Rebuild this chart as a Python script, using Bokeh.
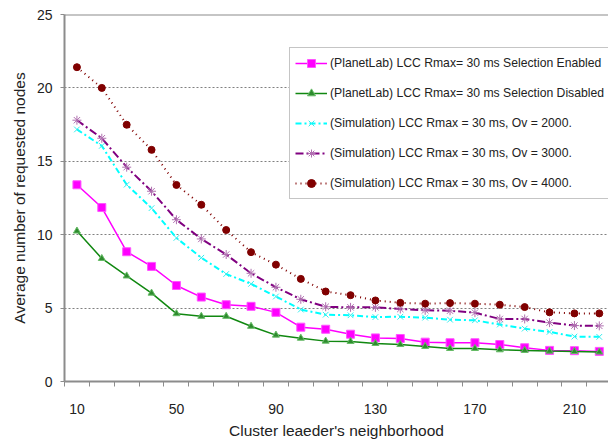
from bokeh.plotting import figure
from bokeh.models import Range1d, FixedTicker, Span, Legend, LegendItem
from bokeh.embed import file_html
from bokeh.resources import INLINE

neighborhood = [10, 20, 30, 40, 50, 60, 70, 80, 90, 100, 110,
                120, 130, 140, 150, 160, 170, 180, 190, 200, 210, 220]
tick_labels = [10, 50, 90, 130, 170, 210]

planet_enabled = [13.40, 11.85, 8.84, 7.84, 6.54, 5.75, 5.23, 5.12, 4.71, 3.70, 3.56,
                  3.22, 2.97, 2.93, 2.68, 2.64, 2.64, 2.52, 2.30, 2.12, 2.10, 2.05]
planet_disabled = [10.25, 8.38, 7.19, 6.02, 4.62, 4.44, 4.44, 3.76, 3.16, 2.95, 2.75,
                   2.73, 2.59, 2.52, 2.39, 2.25, 2.25, 2.16, 2.12, 2.07, 2.05, 2.01]
sim_ov2000 = [17.17, 16.05, 13.41, 11.81, 9.78, 8.43, 7.32, 6.65, 5.79, 4.90, 4.55,
              4.51, 4.39, 4.41, 4.35, 4.21, 4.17, 3.88, 3.60, 3.38, 3.06, 3.04]
sim_ov3000 = [17.80, 16.57, 14.60, 12.96, 11.02, 9.71, 8.65, 7.37, 6.42, 5.60, 5.09,
              5.05, 5.05, 4.94, 4.85, 4.82, 4.69, 4.26, 4.26, 4.01, 3.81, 3.79]
sim_ov4000 = [21.41, 20.00, 17.49, 15.78, 13.39, 12.04, 10.32, 8.81, 7.96, 6.99, 6.13,
              5.88, 5.52, 5.36, 5.30, 5.34, 5.30, 5.23, 5.07, 4.71, 4.64, 4.64]

labels = [
    "(PlanetLab) LCC Rmax= 30 ms Selection Enabled",
    "(PlanetLab) LCC Rmax= 30 ms Selection Disabled",
    "(Simulation) LCC Rmax = 30 ms, Ov = 2000.",
    "(Simulation) LCC Rmax = 30 ms, Ov = 3000.",
    "(Simulation) LCC Rmax = 30 ms, Ov = 4000.",
]

FONT = "Liberation Sans"
TXT = "#222222"
AX = "#8c8c8c"

p = figure(width=608, height=441, output_backend="svg", toolbar_location=None,
           x_range=Range1d(5, 223.7), y_range=Range1d(0, 25),
           min_border_left=64, min_border_right=0, min_border_top=14, min_border_bottom=57)
p.outline_line_color = None
p.background_fill_color = "white"
p.border_fill_color = "white"

# grid
p.xgrid.grid_line_color = None
p.ygrid.grid_line_color = "#808080"
p.ygrid.grid_line_dash = "2 2"
p.ygrid.grid_line_width = 1
p.ygrid.ticker = FixedTicker(ticks=[5, 10, 15, 20])

# top frame line
p.add_layout(Span(location=25, dimension="width", line_color=AX, line_width=2))

# x axis
xa = p.xaxis[0]
xa.ticker = FixedTicker(ticks=tick_labels, minor_ticks=[5 + 10 * i for i in range(22)])
xa.major_tick_out = 0
xa.major_tick_in = 0
xa.minor_tick_out = 5
xa.minor_tick_in = 0
xa.minor_tick_line_color = AX
xa.axis_line_color = AX
xa.axis_line_width = 2
xa.major_label_standoff = 17
xa.major_label_text_font = FONT
xa.major_label_text_font_size = "14px"
xa.major_label_text_color = TXT
xa.axis_label = "Cluster leaeder's neighborhood"
xa.axis_label_text_font = FONT
xa.axis_label_text_font_size = "15.5px"
xa.axis_label_text_font_style = "normal"
xa.axis_label_text_color = TXT
xa.axis_label_standoff = 5

# y axis
ya = p.yaxis[0]
ya.ticker = FixedTicker(ticks=[0, 5, 10, 15, 20, 25])
ya.major_tick_out = 4
ya.major_tick_in = 0
ya.major_tick_line_color = AX
ya.minor_tick_line_color = None
ya.axis_line_color = AX
ya.axis_line_width = 2
ya.major_label_standoff = 8
ya.major_label_text_font = FONT
ya.major_label_text_font_size = "14px"
ya.major_label_text_color = TXT
ya.axis_label = "Average number of requested nodes"
ya.axis_label_text_font = FONT
ya.axis_label_text_font_size = "15.5px"
ya.axis_label_text_font_style = "normal"
ya.axis_label_text_color = TXT
ya.axis_label_standoff = 6

items = []

l1 = p.line(neighborhood, planet_enabled, line_color="#ff00ff", line_width=1.5)
m1 = p.scatter(neighborhood, planet_enabled, marker="square", size=8,
               fill_color="#ff00ff", line_color="#ff55ff")
items.append(LegendItem(label=labels[0], renderers=[l1, m1]))

l2 = p.line(neighborhood, planet_disabled, line_color="#118811", line_width=1.5)
m2 = p.scatter(neighborhood, planet_disabled, marker="triangle", size=7,
               fill_color="#2e8b2e", line_color="#66bb66")
items.append(LegendItem(label=labels[1], renderers=[l2, m2]))

l3 = p.line(neighborhood, sim_ov2000, line_color="#00ffff", line_width=2, line_dash="6 3 2 3")
m3 = p.scatter(neighborhood, sim_ov2000, marker="x", size=8,
               line_color="#33eeee", line_width=1)
items.append(LegendItem(label=labels[2], renderers=[l3, m3]))

l4 = p.line(neighborhood, sim_ov3000, line_color="#800080", line_width=2, line_dash="8 3 2 3")
m4 = p.scatter(neighborhood, sim_ov3000, marker="asterisk", size=9,
               line_color="#b070b0", line_width=1)
items.append(LegendItem(label=labels[3], renderers=[l4, m4]))

l5 = p.line(neighborhood, sim_ov4000, line_color="#800000", line_width=2, line_dash="1 4")
m5 = p.scatter(neighborhood, sim_ov4000, marker="circle", size=7,
               fill_color="#800000", line_color="#800000")
items.append(LegendItem(label=labels[4], renderers=[l5, m5]))

legend = Legend(items=items, location=(225, 182), orientation="vertical")
legend.margin = 0
legend.padding = 5
legend.spacing = 10
legend.glyph_width = 32
legend.glyph_height = 20
legend.label_height = 20
legend.label_width = 272
legend.label_standoff = 3
legend.label_text_font = FONT
legend.label_text_font_size = "12.2px"
legend.label_text_color = TXT
legend.border_line_color = AX
legend.border_line_width = 1.5
legend.background_fill_color = "white"
legend.background_fill_alpha = 1
p.add_layout(legend, "center")

open("out.html", "w").write(file_html(p, INLINE))
